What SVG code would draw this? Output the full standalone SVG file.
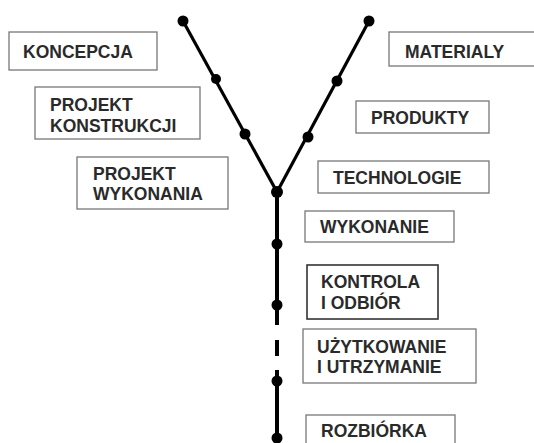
<svg xmlns="http://www.w3.org/2000/svg" width="534" height="443" viewBox="0 0 534 443">
<style>
.box{fill:#fff;stroke:#777;stroke-width:1.3}
.dark{stroke:#333;stroke-width:1.6}
.t{font-family:"Liberation Sans",Arial,sans-serif;font-size:17.5px;font-weight:bold;fill:#2a2a2a}
.ln{stroke:#000;fill:none;stroke-linecap:butt}
.dot{fill:#000}
</style>
<rect width="534" height="443" fill="#fff"/>
<g id="connectors">
<line class="ln" x1="183" y1="21" x2="277" y2="192" stroke-width="3.2"/>
<line class="ln" x1="369" y1="21" x2="277" y2="192" stroke-width="3.2"/>
<line class="ln" x1="277" y1="192" x2="277" y2="325" stroke-width="4"/>
<line class="ln" x1="277" y1="340" x2="277" y2="356" stroke-width="4"/>
<line class="ln" x1="277" y1="370" x2="277" y2="443" stroke-width="4"/>
<circle class="dot" cx="183" cy="21" r="5.5"/>
<circle class="dot" cx="216" cy="79" r="5"/>
<circle class="dot" cx="245" cy="134" r="5.5"/>
<circle class="dot" cx="369" cy="21" r="5.5"/>
<circle class="dot" cx="337" cy="81" r="5.5"/>
<circle class="dot" cx="308" cy="137" r="5.5"/>
<circle class="dot" cx="277" cy="192" r="6"/>
<circle class="dot" cx="277" cy="244" r="5.5"/>
<circle class="dot" cx="277" cy="305" r="5.5"/>
<circle class="dot" cx="277" cy="381" r="5.5"/>
<circle class="dot" cx="277" cy="438" r="5.5"/>
</g>
<g id="koncepcja"><rect class="box" x="9" y="32" width="148" height="38"/><text class="t" x="23" y="58">KONCEPCJA</text></g>
<g id="projekt-konstrukcji"><rect class="box" x="35" y="87" width="165" height="52"/><text class="t" x="50" y="111">PROJEKT</text><text class="t" x="50" y="132">KONSTRUKCJI</text></g>
<g id="projekt-wykonania"><rect class="box" x="77" y="157" width="151" height="52"/><text class="t" x="93" y="180">PROJEKT</text><text class="t" x="93" y="200">WYKONANIA</text></g>
<g id="materialy"><rect class="box" x="389" y="32" width="150" height="34"/><text class="t" x="405" y="58">MATERIALY</text></g>
<g id="produkty"><rect class="box" x="356" y="101" width="133" height="32"/><text class="t" x="371" y="124">PRODUKTY</text></g>
<g id="technologie"><rect class="box" x="318" y="161" width="171" height="32"/><text class="t" x="333" y="184">TECHNOLOGIE</text></g>
<g id="wykonanie"><rect class="box" x="305" y="211" width="149" height="31"/><text class="t" x="320" y="233">WYKONANIE</text></g>
<g id="kontrola"><rect class="box dark" x="307" y="265" width="131" height="54"/><text class="t" x="321" y="288">KONTROLA</text><text class="t" x="321" y="309">I ODBIÓR</text></g>
<g id="uzytkowanie"><rect class="box" x="303" y="329" width="173" height="54"/><text class="t" x="317" y="353">UŻYTKOWANIE</text><text class="t" x="317" y="373">I UTRZYMANIE</text></g>
<g id="rozbiorka"><rect class="box" x="306" y="415" width="149" height="40"/><text class="t" x="321" y="437">ROZBIÓRKA</text></g>
</svg>
